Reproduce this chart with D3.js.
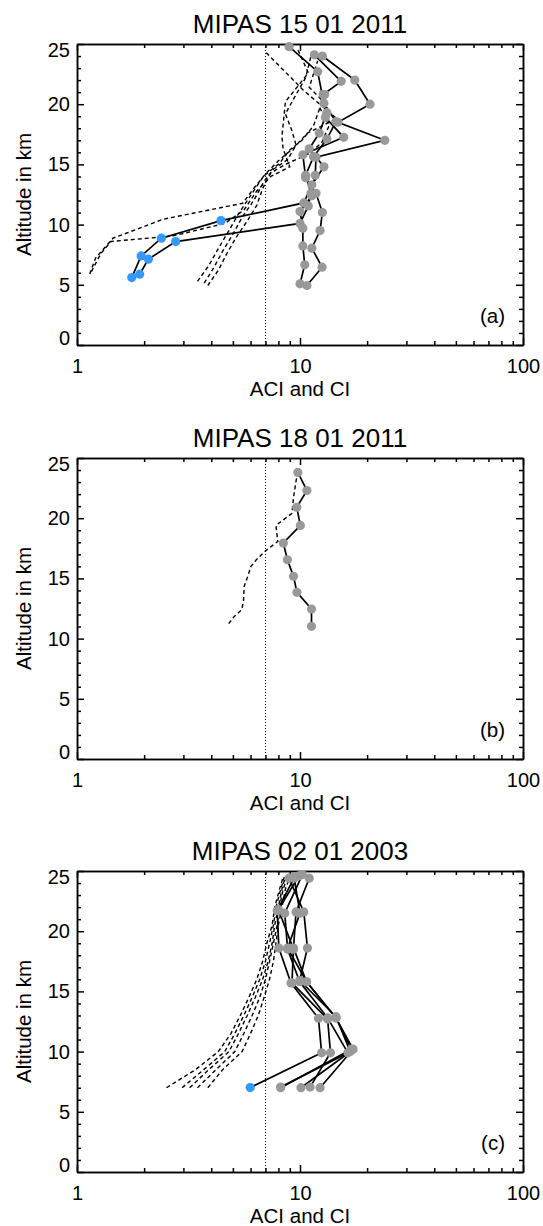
<!DOCTYPE html>
<html>
<head>
<meta charset="utf-8">
<script src="https://cdn.jsdelivr.net/npm/d3@7"></script>
<style>
  body { margin: 0; background: #fff; }
  text { font-family: "Liberation Sans", Arial, Helvetica, sans-serif; fill: #000; }
</style>
</head>
<body>
<div id="chart"></div>
<script>
// ── Data: [ACI/CI value, altitude km] ──
// panel (a) 15 01 2011 : ACI profiles (solid) and CI profiles (dashed)
const aciA1 = [[1.76,5.6],[1.94,7.4],[2.39,8.87],[4.42,10.33],[10.4,11.8],[11.3,13.3],[12.8,14.8],[11.0,16.3],[12.2,17.6],[13.2,19.3],[12.7,20.8],[15.3,21.9],[11.6,24.1]];
const aciA2 = [[1.91,5.88],[2.09,7.13],[2.77,8.59],[10.0,10.1],[10.9,11.55],[11.2,12.6],[11.7,14.1],[11.8,15.6],[24.0,17.0],[14.8,18.5],[20.6,20.0],[17.6,22.0],[12.6,24.0]];
const aciA3 = [[10.0,5.08],[10.5,6.66],[10.3,8.23],[10.3,9.7],[10.0,11.08],[11.3,12.4],[10.6,14.1],[11.5,15.64],[13.2,17.1],[14.5,18.55],[12.8,20.07],[12.0,22.7],[8.94,24.78]];
const aciA4 = [[10.74,4.94],[12.56,6.46],[11.3,8.04],[12.3,9.5],[12.6,11.0],[11.8,12.6],[10.6,13.9],[10.3,15.8],[15.7,17.25],[13.0,18.9],[12.9,20.8]];
const ciA1 = [[1.14,5.9],[1.21,7.2],[1.45,8.87],[2.43,10.44],[5.53,11.77],[6.2,13.0],[7.0,14.2],[8.0,15.3],[9.4,16.4],[10.8,17.6],[14.6,18.8],[10.3,21.2],[6.95,24.4]];
const ciA2 = [[1.16,6.1],[1.28,7.6],[1.42,8.6],[2.7,9.06],[4.6,10.1],[5.6,11.2],[6.4,12.8],[7.4,14.0],[9.0,14.8],[8.4,16.3],[8.3,17.3],[8.6,20.2],[10.9,22.6],[9.8,24.5]];
const ciA3 = [[3.47,5.28],[3.9,6.6],[4.3,8.0],[4.8,9.5],[5.3,10.9],[6.0,12.4],[6.85,14.0],[8.1,15.1],[9.0,16.2],[10.2,17.0],[11.5,18.2],[12.6,20.3],[11.0,21.4],[12.0,23.6]];
const ciA4 = [[3.72,5.14],[4.1,6.4],[4.5,7.8],[5.0,9.2],[5.5,10.6],[6.2,12.0],[6.9,13.6],[7.6,14.6],[8.8,15.4],[9.6,16.6],[9.2,17.8],[8.6,19.2],[9.4,20.5],[10.6,22.2],[11.2,24.0]];
const ciA5 = [[3.86,4.94],[4.3,6.2],[4.7,7.6],[5.2,9.0],[5.8,10.3],[6.4,11.6],[6.8,13.0],[7.4,14.3],[8.6,15.0],[11.0,15.9],[12.5,16.8],[13.5,18.2],[12.2,19.8]];

// panel (b) 18 01 2011
const aciB1 = [[11.26,11.02],[11.26,12.46],[9.69,13.84],[9.35,15.17],[8.78,16.55],[8.42,17.94],[10.04,19.4],[9.67,20.9],[10.74,22.3],[9.78,23.8]];
const ciB1 = [[4.79,11.24],[5.05,11.8],[5.48,12.4],[5.58,13.1],[5.62,14.34],[5.83,15.17],[6.03,16.0],[6.37,16.55],[6.95,17.24],[7.95,18.07],[7.8,19.4],[9.2,20.4],[9.35,21.7],[9.6,23.1],[9.78,23.8]];

// panel (c) 02 01 2003
const aciC1 = [[5.98,7.01],[12.5,9.9],[12.1,12.77],[9.11,15.7],[8.04,18.6],[7.9,21.7],[9.4,24.4]];
const aciC2 = [[8.19,7.0],[17.0,10.2],[14.5,12.8],[10.7,15.8],[9.35,18.6],[9.6,21.6],[11.0,24.4]];
const aciC3 = [[8.19,7.05],[16.4,9.9],[13.3,12.8],[9.97,15.8],[8.8,18.5],[8.54,21.5],[10.25,24.7]];
const aciC4 = [[10.1,7.0],[16.8,10.0],[14.5,12.9],[9.97,15.9],[10.8,18.6],[10.4,21.6],[8.93,24.4]];
const aciC5 = [[11.1,7.05],[13.7,9.9],[13.3,12.7],[9.2,15.7],[9.35,18.5],[8.0,21.8],[9.9,24.6]];
const aciC6 = [[12.3,7.0],[17.3,10.2],[14.5,12.8],[10.7,15.8],[8.8,18.6],[10.0,21.5],[9.4,24.5]];
const ciAltC = [7, 8.5, 10, 11.5, 13, 14.5, 16, 17.5, 19, 20.5, 22, 23.5, 24.5];
const ciC1 = [2.52, 3.4, 4.3, 4.9, 5.4, 5.9, 6.4, 6.8, 7.1, 7.5, 7.7, 8.1, 8.4];
const ciC2 = [2.96, 3.7, 4.6, 5.1, 5.6, 6.1, 6.6, 7.0, 7.3, 7.6, 7.8, 8.2, 8.5];
const ciC3 = [3.2, 3.9, 4.8, 5.3, 5.8, 6.3, 6.8, 7.2, 7.5, 7.7, 8.0, 8.3, 8.6];
const ciC4 = [3.47, 4.2, 5.1, 5.6, 6.1, 6.6, 7.0, 7.3, 7.6, 7.9, 8.1, 8.4, 8.8];
const ciC5 = [3.86, 4.5, 5.5, 6.0, 6.5, 6.9, 7.3, 7.6, 7.8, 8.0, 8.3, 8.6, 9.0];

const threshold = 7;
const yMajor = [0, 5, 10, 15, 20, 25];
const xMajor = [1, 10, 100];

const panels = [
  { top: 44,  title: "MIPAS 15 01 2011", tag: "(a)", aci: [aciA1, aciA2, aciA3, aciA4], ci: [ciA1, ciA2, ciA3, ciA4, ciA5] },
  { top: 458, title: "MIPAS 18 01 2011", tag: "(b)", aci: [aciB1], ci: [ciB1] },
  { top: 871, title: "MIPAS 02 01 2003", tag: "(c)", aci: [aciC1, aciC2, aciC3, aciC4, aciC5, aciC6],
    ci: [ciC1, ciC2, ciC3, ciC4, ciC5].map(v => d3.zip(v, ciAltC)) }
];

// ── Layout ──
const width = 543, height = 1226;
const left = 77, right = 523, plotH = 301;
const grey = "#999999", blue = "#3399ff";

const svg = d3.select("#chart").append("svg")
  .attr("width", width).attr("height", height)
  .attr("viewBox", [0, 0, width, height]);

panels.forEach(p => drawPanel(p));

function drawPanel(p) {
  const bottom = p.top + plotH;
  const x = d3.scaleLog().domain([1, 100]).range([left, right]);
  const y = d3.scaleLinear().domain([0, 25]).range([bottom, p.top]);
  const xMinor = d3.range(2, 10).concat(d3.range(20, 100, 10));
  const yMinor = d3.range(0, 26).filter(v => v % 5 !== 0);
  const g = svg.append("g");

  // axes: ticks point inward on all four sides
  const styleAxis = sel => {
    sel.attr("font-size", 20).attr("font-family", null);
    sel.selectAll("path, line").attr("stroke", "#000").attr("stroke-width", 1.5);
  };
  g.append("g").attr("transform", `translate(0,${bottom})`)
    .call(d3.axisBottom(x).tickValues(xMinor).tickSize(-4).tickSizeOuter(0).tickFormat(""))
    .call(styleAxis);
  g.append("g").attr("transform", `translate(0,${bottom})`)
    .call(d3.axisBottom(x).tickValues(xMajor).tickSize(-7).tickSizeOuter(0).tickPadding(14).tickFormat(d3.format("d")))
    .call(styleAxis);
  g.append("g").attr("transform", `translate(0,${p.top})`)
    .call(d3.axisTop(x).tickValues(xMinor).tickSize(-4).tickSizeOuter(0).tickFormat(""))
    .call(styleAxis);
  g.append("g").attr("transform", `translate(0,${p.top})`)
    .call(d3.axisTop(x).tickValues(xMajor).tickSize(-7).tickSizeOuter(0).tickFormat(""))
    .call(styleAxis);
  g.append("g").attr("transform", `translate(${left},0)`)
    .call(d3.axisLeft(y).tickValues(yMinor).tickSize(-4).tickSizeOuter(0).tickFormat(""))
    .call(styleAxis);
  const yAx = g.append("g").attr("transform", `translate(${left},0)`)
    .call(d3.axisLeft(y).tickValues(yMajor).tickSize(-7).tickSizeOuter(0).tickPadding(7))
    .call(styleAxis);
  // end labels are pulled inside the axis range
  yAx.selectAll(".tick text").attr("dy", d => d === 25 ? "0.6em" : d === 0 ? "-0.04em" : "0.32em");
  g.append("g").attr("transform", `translate(${right},0)`)
    .call(d3.axisRight(y).tickValues(yMinor).tickSize(-4).tickSizeOuter(0).tickFormat(""))
    .call(styleAxis);
  g.append("g").attr("transform", `translate(${right},0)`)
    .call(d3.axisRight(y).tickValues(yMajor).tickSize(-7).tickSizeOuter(0).tickFormat(""))
    .call(styleAxis);

  // titles
  g.append("text").attr("x", (left + right) / 2).attr("y", p.top - 11)
    .attr("text-anchor", "middle").attr("font-size", 26).text(p.title);
  g.append("text").attr("x", (left + right) / 2).attr("y", bottom + 51)
    .attr("text-anchor", "middle").attr("font-size", 20.5).text("ACI and CI");
  g.append("text").attr("transform", `translate(31,${(p.top + bottom) / 2}) rotate(-90)`)
    .attr("text-anchor", "middle").attr("font-size", 20.5).text("Altitude in km");
  g.append("text").attr("x", 505).attr("y", bottom - 22)
    .attr("text-anchor", "end").attr("font-size", 20.5).text(p.tag);

  // threshold line
  g.append("line")
    .attr("x1", x(threshold)).attr("x2", x(threshold))
    .attr("y1", y(25)).attr("y2", y(0))
    .attr("stroke", "#000").attr("stroke-width", 1).attr("stroke-dasharray", "1,2");

  const line = d3.line().x(d => x(d[0])).y(d => y(d[1]));

  g.append("g")
    .attr("fill", "none").attr("stroke", "#000").attr("stroke-width", 1.4).attr("stroke-dasharray", "4,3")
    .selectAll("path").data(p.ci).join("path")
    .attr("d", line);

  g.append("g")
    .attr("fill", "none").attr("stroke", "#000").attr("stroke-width", 1.7)
    .selectAll("path").data(p.aci).join("path")
    .attr("d", line);

  g.append("g")
    .selectAll("circle").data(p.aci.flat()).join("circle")
    .attr("cx", d => x(d[0])).attr("cy", d => y(d[1]))
    .attr("r", 4.6)
    .attr("fill", d => d[0] < threshold ? blue : grey);
}
</script>
</body>
</html>
